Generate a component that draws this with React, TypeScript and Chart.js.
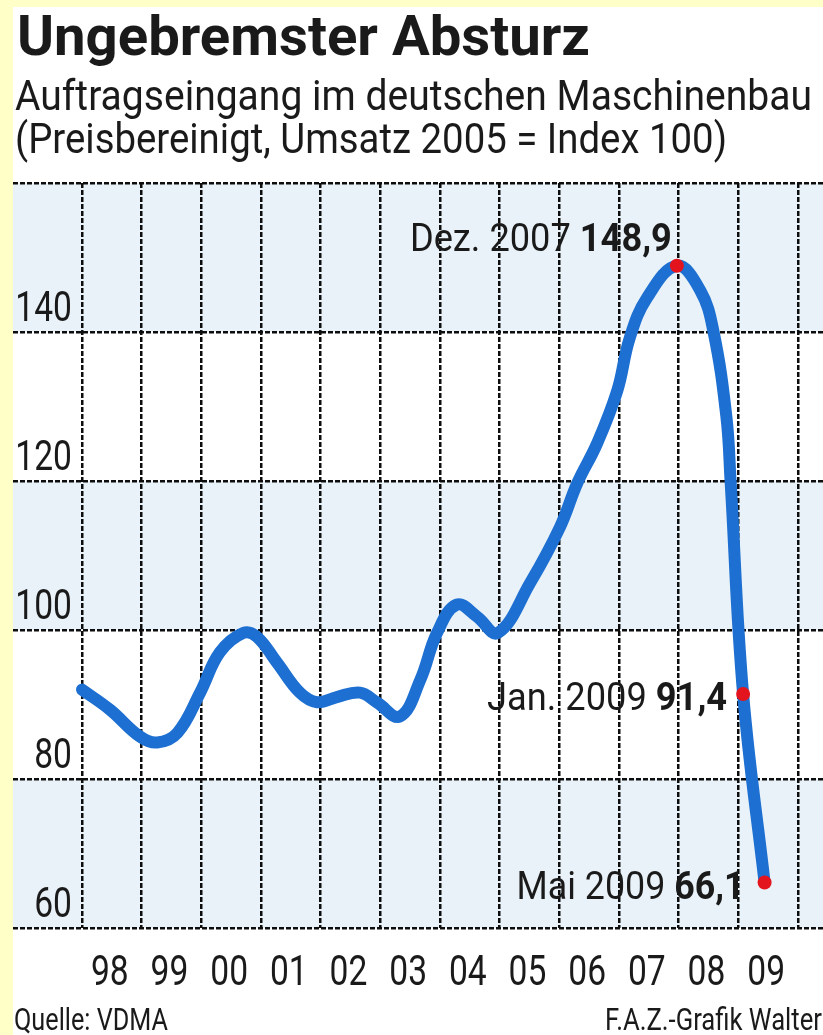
import React, { useEffect, useLayoutEffect, useRef } from "react";
import { Chart, registerables } from "chart.js";

Chart.register(...registerables);

// ---------- texts ----------
const TITLE = "Ungebremster Absturz";
const SUBTITLE_1 = "Auftragseingang im deutschen Maschinenbau";
const SUBTITLE_2 = "(Preisbereinigt, Umsatz 2005 = Index 100)";
const SOURCE = "Quelle: VDMA";
const CREDIT = "F.A.Z.-Grafik Walter";

// ---------- axis data ----------
const yearBoundaries = [1998, 1999, 2000, 2001, 2002, 2003, 2004, 2005, 2006, 2007, 2008, 2009, 2010];
const yearLabels = ["98", "99", "00", "01", "02", "03", "04", "05", "06", "07", "08", "09"];
const yTickValues = [60, 80, 100, 120, 140];

// ---------- series (decimal year, index value) ----------
const seriesDates = [
  1998.0, 1998.47, 1998.97, 1999.26, 1999.6, 1999.98, 2000.31, 2000.7, 2000.93,
  2001.27, 2001.65, 2001.94, 2002.27, 2002.66, 2002.94, 2003.33, 2003.67, 2003.95,
  2004.28, 2004.62, 2004.97, 2005.51, 2006.01, 2006.3, 2006.63, 2006.97, 2007.18,
  2007.47, 2007.97, 2008.36, 2008.58, 2008.8, 2008.87, 2009.08, 2009.44,
];
const seriesValues = [
  92.0, 89.3, 85.7, 84.9, 86.2, 91.6, 97.0, 99.6, 99.1,
  95.6, 91.6, 90.3, 91.0, 91.6, 90.3, 88.4, 93.3, 99.6,
  103.4, 101.8, 99.6, 106.3, 113.8, 119.7, 125.0, 132.1, 139.2,
  144.6, 148.9, 145.6, 140.2, 128.6, 120.0, 91.4, 66.1,
];

// ---------- highlighted points ----------
const markerDates = [2007.97, 2009.08, 2009.44];
const markerValues = [148.9, 91.4, 66.1];
const markerLabels = ["Dez. 2007", "Jan. 2009", "Mai 2009"];

// ---------- layout / style (not data) ----------
const W = 823;
const H = 1035;
const YELLOW = "#ffffc8";
const BAND = "#e9f2f8";
const LINE_BLUE = "#1d6fd1";
const DOT_RED = "#e3141d";
const INK = "#1a1a1a";
const GRID = "#0d0d0d";
const FONT = "Roboto, 'DejaVu Sans', sans-serif";
const AREA = { left: 13, top: 183, bottom: 928 };
const X_MIN = 1996.8436;
const X_MAX = 2010.419;
const Y_MIN = 60;
const Y_MAX = 160;
const bandRanges = [
  [140, 160],
  [100, 120],
  [60, 80],
];
// per-annotation placement: dx/dy from the dot to the right end / baseline of the text, fitted width
const markerLabelLayout = [
  { dx: -5, dy: -15, width: 262 },
  { dx: -16, dy: 16, width: 240 },
  { dx: -20, dy: 16, width: 228 },
];

type Seg = { text: string; bold?: boolean };

function drawSegs(
  ctx: CanvasRenderingContext2D,
  segs: Seg[],
  x: number,
  y: number,
  size: number,
  align: "left" | "right" | "center",
  opt: { scaleX?: number; width?: number }
) {
  ctx.save();
  ctx.textBaseline = "alphabetic";
  ctx.textAlign = "left";
  const widths = segs.map((s) => {
    ctx.font = `${s.bold ? 700 : 400} ${size}px ${FONT}`;
    return ctx.measureText(s.text).width;
  });
  const total = widths.reduce((a, b) => a + b, 0);
  const sx = opt.width ? opt.width / total : opt.scaleX ?? 1;
  ctx.translate(x, y);
  ctx.scale(sx, 1);
  let cx = align === "left" ? 0 : align === "right" ? -total : -total / 2;
  ctx.fillStyle = INK;
  segs.forEach((s, i) => {
    ctx.font = `${s.bold ? 700 : 400} ${size}px ${FONT}`;
    ctx.fillText(s.text, cx, 0);
    cx += widths[i];
  });
  ctx.restore();
}

const bandsPlugin = {
  id: "bands",
  beforeDraw(chart: any) {
    const { ctx, chartArea, scales } = chart;
    ctx.save();
    ctx.fillStyle = BAND;
    bandRanges.forEach(([a, b]) => {
      const y1 = scales.y.getPixelForValue(b);
      const y2 = scales.y.getPixelForValue(a);
      ctx.fillRect(chartArea.left, y1, chartArea.right - chartArea.left, y2 - y1);
    });
    ctx.restore();
  },
};

const labelsPlugin = {
  id: "labels",
  afterDraw(chart: any) {
    const { ctx, scales } = chart;
    yTickValues.forEach((v) => {
      const py = scales.y.getPixelForValue(v);
      drawSegs(ctx, [{ text: String(v) }], 72, py - 11, 42, "right", { scaleX: 0.8 });
    });
    yearLabels.forEach((lab, i) => {
      const px = scales.x.getPixelForValue(yearBoundaries[i] + 0.5);
      drawSegs(ctx, [{ text: lab }], px - 2, 985, 42, "center", { scaleX: 0.8 });
    });
    markerLabels.forEach((lab, i) => {
      const px = scales.x.getPixelForValue(markerDates[i]);
      const py = scales.y.getPixelForValue(markerValues[i]);
      const L = markerLabelLayout[i];
      drawSegs(
        ctx,
        [{ text: lab + " " }, { text: markerValues[i].toFixed(1).replace(".", ","), bold: true }],
        px + L.dx,
        py + L.dy,
        38,
        "right",
        { width: L.width }
      );
    });
  },
};

function FitText(props: {
  text: string;
  left: number;
  baseline: number;
  width: number;
  size: number;
  weight?: number;
}) {
  const ref = useRef<HTMLSpanElement>(null);
  useLayoutEffect(() => {
    const el = ref.current;
    if (!el) return;
    el.style.transform = "none";
    const w = el.getBoundingClientRect().width;
    if (w > 0) el.style.transform = `scaleX(${props.width / w})`;
  }, [props.text, props.width, props.size]);
  return (
    <span
      ref={ref}
      style={{
        position: "absolute",
        left: props.left,
        top: props.baseline - 0.842 * props.size,
        fontFamily: FONT,
        fontSize: props.size,
        fontWeight: props.weight ?? 400,
        lineHeight: `${props.size}px`,
        whiteSpace: "nowrap",
        transformOrigin: "0 0",
        color: INK,
      }}
    >
      {props.text}
    </span>
  );
}

export default function App() {
  const canvasRef = useRef<HTMLCanvasElement>(null);

  useEffect(() => {
    const canvas = canvasRef.current;
    if (!canvas) return;
    const chart = new Chart(canvas, {
      type: "line",
      data: {
        datasets: [
          {
            type: "scatter",
            label: "Markierungen",
            data: markerDates.map((d, i) => ({ x: d, y: markerValues[i] })),
            backgroundColor: DOT_RED,
            borderWidth: 0,
            pointRadius: 7,
            showLine: false,
          } as any,
          {
            label: "Auftragseingang",
            data: seriesDates.map((d, i) => ({ x: d, y: seriesValues[i] })),
            borderColor: LINE_BLUE,
            borderWidth: 12,
            pointRadius: 0,
            tension: 0.4,
            borderCapStyle: "round",
            borderJoinStyle: "round",
            fill: false,
          },
        ],
      },
      options: {
        animation: false,
        responsive: false,
        devicePixelRatio: 1,
        events: [],
        layout: {
          autoPadding: false,
          padding: { left: AREA.left, right: 0, top: AREA.top, bottom: H - AREA.bottom },
        },
        plugins: {
          legend: { display: false },
          tooltip: { enabled: false },
          title: { display: false },
        },
        scales: {
          x: {
            type: "linear",
            min: X_MIN,
            max: X_MAX,
            afterBuildTicks: (scale: any) => {
              scale.ticks = yearBoundaries.map((v) => ({ value: v }));
            },
            afterFit: (scale: any) => {
              scale.height = 0;
            },
            ticks: { display: false },
            grid: { color: GRID, lineWidth: 2.5, drawTicks: false },
            border: { display: false, dash: [5, 2] },
          },
          y: {
            type: "linear",
            min: Y_MIN,
            max: Y_MAX,
            ticks: { display: false, stepSize: 20 },
            afterFit: (scale: any) => {
              scale.width = 0;
            },
            grid: { color: GRID, lineWidth: 2.5, drawTicks: false },
            border: { display: false, dash: [5, 2] },
          },
        },
      },
      plugins: [bandsPlugin, labelsPlugin],
    });
    return () => chart.destroy();
  }, []);

  return (
    <div
      style={{
        position: "absolute",
        left: 0,
        top: 0,
        width: W,
        height: H,
        background: YELLOW,
        overflow: "hidden",
      }}
    >
      <div style={{ position: "absolute", left: 13, top: 7, right: 0, bottom: 0, background: "#fff" }} />
      <canvas
        ref={canvasRef}
        width={W}
        height={H}
        style={{ position: "absolute", left: 0, top: 0, width: W, height: H }}
      />
      <FitText text={TITLE} left={17} baseline={55} width={573} size={56} weight={700} />
      <FitText text={SUBTITLE_1} left={15} baseline={110} width={797} size={42} />
      <FitText text={SUBTITLE_2} left={15} baseline={153} width={712} size={42} />
      <FitText text={SOURCE} left={14} baseline={1030} width={154} size={31} />
      <FitText text={CREDIT} left={605} baseline={1030} width={217} size={31} />
    </div>
  );
}
